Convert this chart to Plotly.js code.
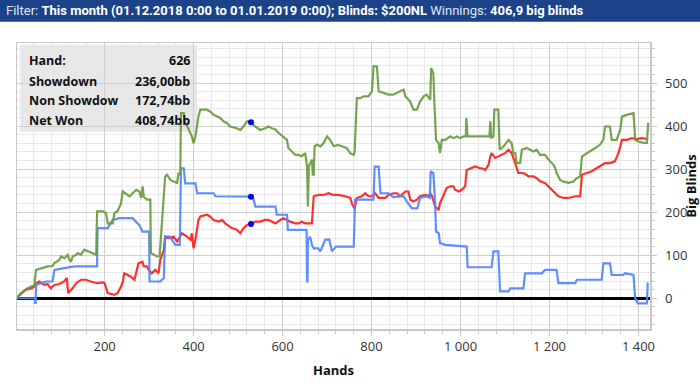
<!DOCTYPE html>
<html>
<head>
<meta charset="utf-8">
<script src="https://cdn.plot.ly/plotly-3.0.1.min.js"></script>
<style>html,body{margin:0;padding:0;background:#fff;}#chart{width:700px;height:383px;}</style>
</head>
<body>
<div id="chart"></div>
<script>
// Net won (green)
const netHands = [0.8,12,23,34.5,42,45.8,57,72,83,87,98,102,110,117,121,124.5,128,136,139.5,147,154,162,173,181,183,196,203,207,218,222,229,233,237,240.5,252,256,263,271,278,282,285.5,288,295,302.7,304,318,323.6,326.6,333,336,340,348,355,363,366,370,371.6,378,381,388,396,400,404,408,411,415,430,437,445,452,460,467,475,482,497,505,512,520,529,538,550,561,568,576,584,590,602,610,613,621,629,636,643,651,655,657,659,662,666,668,670,672,677,685,692,700,707,715,725,733,744,752,760,762,767,775,782,793,801,804.5,812,816,827,838,849,857,864,872,876,887,894,902,909,917,924,932,934,939,941,945,951,954,958,966,977,984,992,999,1007,1012,1013,1016,1029,1044,1063,1065,1067,1069,1074,1076,1085,1088,1097,1108,1115,1119,1123,1126.5,1134,1138,1149,1156,1164,1171,1179,1190,1198,1209,1213,1216,1224,1231.5,1243,1254,1261,1269,1273,1284,1291,1303,1314,1321,1325,1336,1340,1351,1359,1363,1374,1389,1392.5,1400,1411,1419,1422];
const netWon   = [0,12,21,27,31,66,70,74,75,82,89,97,93,101,89,85,97,101,105,101,113,109,105,101,202,202,198,174,174,198,202,213,221,248,240,237,244,252,248,233,260,236,229,229,105,97,97,143,237,283,287,275,271,268,291,287,430,430,407,395,376,360,376,407,423,438,438,434,426,423,419,411,407,399,395,391,399,411,409,399,391,395,399,395,392,385,376,368,349,341,333,333,330,337,306,213,306,314,322,287,287,353,357,353,360,376,368,353,356,353,349,337,333,340,465,465,469,469,481,539,539,481,477,473,473,477,481,485,469,457,438,438,457,469,473,461,535,523,461,368,360,337,368,368,376,372,376,372,376,376,419,376,376,376,376,376,411,372,376,438,438,345,353,368,360,337,337,314,314,345,349,345,341,345,333,333,322,310,302,291,275,271,268,271,279,283,329,337,341,349,357,368,399,399,368,368,391,422,426,430,368,364,361,361,408];

// Showdown (blue)
const sdHands = [0.8,19.6,43,43.5,45,46,57,68,83,87,109,121,132,183,184,207,218,233,263,270,278,285,300,301,325,333,336,348,351,359,369,371.6,378,381,404,408,445,449,533,539,584,587,610,612,651,654,655,656,657,662,666,670,680,685,696,705,711,720,760,763,804.5,807,816,820,838,849,872,879,891,903,909,924,931,933,939,943,945,951,954,966,1014,1016,1070,1074,1085,1089,1108,1112,1141.5,1145,1183,1190,1216,1220,1258,1261.5,1317.5,1321,1336,1340,1366,1370,1389,1392.5,1398.5,1419,1421,1422];
const sdWon    = [0,0,0,-11,-11,31,35,39,39,66,70,72,74,74,163,163,182,186,186,178,170,155,155,39,39,47,143,143,136,124,124,302,302,267,267,244,244,237,236,213,213,194,194,159,159,159,39,39,136,143,124,116,116,109,136,136,109,120,120,229,229,306,306,244,244,235,237,225,209,209,233,237,233,295,291,221,155,151,128,124,120,72,72,109,109,16,16,23,23,58,58,66,66,35,35,43,43,81,81,54,54,58,54,0,-12,-12,35,36];

// Non showdown (red)
const nsdHands = [0.8,12,23,34.5,42,46,53,64.5,72,79,87,98,109,115,118,128,136,147,158,169,184,196,200,207,222,229,237,241,244,252,259,267,276,285,288,295,299,306,314,321,325,333,336,348,355,363,369,374,385,393,396,400,404,411,415,430,437,445,456,464,471,479,486,497,505,512,520,529,539,550,561,568,576,584,595,602,610,617,629,636,643,651,666,670,681,692,703.5,714.6,726,741,752,757,762,767,778,786,793,801,808,816,831,838,849,857,864,872,876,883,887,894,902,909,921,928,932,936,943,951,954,962,969,977,984,988,996,1003,1010.5,1014,1022,1033,1044,1048,1055.5,1063,1067,1070,1078,1085,1093,1100,1108,1115,1123,1130,1138,1145,1153,1164,1171.5,1179,1190,1198,1205,1213,1220,1231.5,1243,1258,1269,1273,1284,1295,1306,1317.5,1325,1336,1347,1355,1363,1374,1385,1396,1407.5,1419,1422];
const nsdWon   = [0,10,20,23,27,35,39,31,33,23,31,33,39,47,12,23,35,43,43,39,35,37,35,12,8,12,27,39,58,54,50,43,81,85,74,74,66,58,66,58,89,112,143,140,143,132,143,151,143,136,151,116,136,182,190,194,190,182,178,182,174,167,163,159,151,163,170,172.74,178,178,182,182,178,174,182,186,182,178,174,174,178,174,174,237,240,240,244,240,240,237,233,217,209,233,237,244,237,237,244,233,233,240,244,244,237,244,248,248,229,225,229,237,240,237,244,237,213,205,221,240,256,260,260,252,248,252,260,298,302,306,302,302,298,310,329,337,326,329,333,337,345,337,314,291,291,289,283,283,279,272,268,260,252,244,237,233,233,237,237,287,291,295,302,310,314,314,318,337,368,368,372,370,372,370,370];

// Hover readout (hand 626)
const readLabels = ["Hand:", "Showdown", "Non Showdow", "Net Won"];
const readValues = ["626", "236,00bb", "172,74bb", "408,74bb"];
const markerHand = 529;
const markerValues = [408.74, 236, 172.74];

const headerText = '<span style="color:#dfe6f2">Filter:</span> <b>This month (01.12.2018 0:00 to 01.01.2019 0:00); Blinds: $200NL</b> <span style="color:#dfe6f2">Winnings:</span> <b>406,9 big blinds</b>';

const FONT = 'Open Sans, Noto Sans, sans-serif';

const traces = [
  {x: nsdHands, y: nsdWon, type: 'scatter', mode: 'lines', line: {color: 'rgba(255,30,30,0.92)', width: 2.2}, hoverinfo: 'skip'},
  {x: sdHands, y: sdWon, type: 'scatter', mode: 'lines', line: {color: 'rgba(80,132,255,0.92)', width: 2.2}, hoverinfo: 'skip'},
  {x: netHands, y: netWon, type: 'scatter', mode: 'lines', line: {color: 'rgba(104,156,62,0.92)', width: 2.2}, hoverinfo: 'skip'},
  {x: markerValues.map(() => markerHand), y: markerValues, type: 'scatter', mode: 'markers', marker: {color: '#0000ff', size: 6}, hoverinfo: 'skip'}
];

const annotations = [];
const rowY = [0.938, 0.8656, 0.798, 0.728];
readLabels.forEach((t, i) => {
  annotations.push({xref: 'paper', yref: 'paper', x: 0.0158, y: rowY[i], xanchor: 'left', yanchor: 'middle', text: '<b>' + t + '</b>', showarrow: false, font: {family: FONT, size: 12.5, color: '#111'}});
  annotations.push({xref: 'paper', yref: 'paper', x: 0.2768, y: rowY[i], xanchor: 'right', yanchor: 'middle', text: '<b>' + readValues[i] + '</b>', showarrow: false, font: {family: FONT, size: 12.5, color: '#111'}});
});
annotations.push({xref: 'paper', yref: 'paper', x: -0.02, y: 1.113, xanchor: 'left', yanchor: 'middle', text: headerText, showarrow: false, font: {family: 'Liberation Sans Narrow, Roboto, sans-serif', size: 13, color: '#ffffff'}});

const layout = {
  width: 700, height: 383,
  margin: {l: 17, r: 50, t: 43, b: 54, pad: 0},
  paper_bgcolor: '#ffffff', plot_bgcolor: '#ffffff',
  showlegend: false,
  separators: ', ',
  font: {family: FONT, size: 13, color: '#333'},
  xaxis: {
    range: [3, 1426], tick0: 0, dtick: 200, separatethousands: true,
    showgrid: true, gridcolor: '#cfcfcf', gridwidth: 1,
    minor: {tick0: 0, dtick: 40, showgrid: true, gridcolor: '#e9e9e9', ticks: 'outside', ticklen: 3, tickcolor: '#c8c8c8'},
    ticks: 'outside', ticklen: 5, tickcolor: '#c8c8c8',
    showline: true, mirror: true, linecolor: '#c8c8c8', linewidth: 1.5,
    zeroline: false,
    tickfont: {family: FONT, size: 13, color: '#333'},
    title: {text: '<b>Hands</b>', font: {family: FONT, size: 13, color: '#111'}, standoff: 12}
  },
  yaxis: {
    side: 'right', range: [-71.4, 593], tick0: 0, dtick: 100,
    showgrid: true, gridcolor: '#cfcfcf', gridwidth: 1,
    minor: {tick0: 0, dtick: 20, showgrid: true, gridcolor: '#e9e9e9', ticks: 'outside', ticklen: 3, tickcolor: '#c8c8c8'},
    ticks: 'outside', ticklen: 5, tickcolor: '#c8c8c8', ticklabelstandoff: 6,
    showline: true, mirror: true, linecolor: '#c8c8c8', linewidth: 1.5,
    zeroline: true, zerolinecolor: '#000000', zerolinewidth: 2.5,
    tickfont: {family: FONT, size: 13, color: '#333'},
    title: {text: '<b>Big Blinds</b>', font: {family: FONT, size: 13, color: '#111'}}
  },
  shapes: [
    {type: 'rect', xref: 'paper', yref: 'paper', x0: 0.0052, x1: 0.2847, y0: 0.6895, y1: 0.994, fillcolor: 'rgba(226,226,226,0.82)', line: {width: 0}, layer: 'between'},
    {type: 'rect', xref: 'paper', yref: 'paper', x0: -0.03, x1: 1.08, y0: 1.0746, y1: 1.16, fillcolor: '#1c438a', line: {width: 0}, layer: 'above'}
  ],
  annotations: annotations
};

Plotly.newPlot('chart', traces, layout, {displayModeBar: false, staticPlot: true});
</script>
</body>
</html>
